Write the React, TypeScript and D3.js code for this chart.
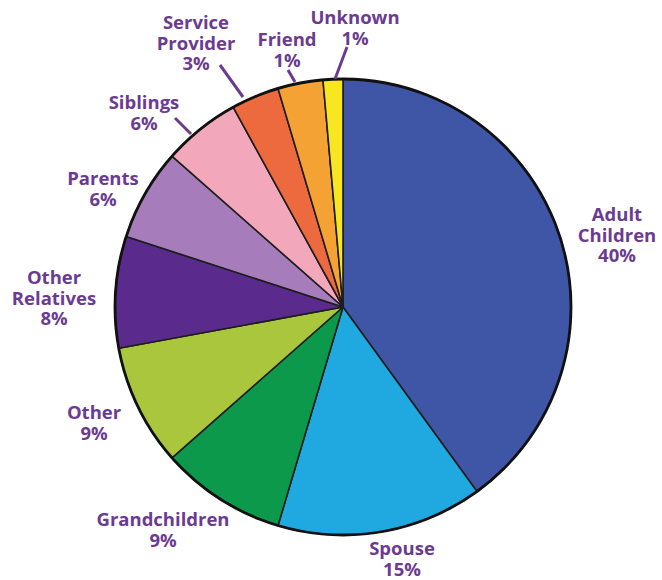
import React from "react";
import * as d3 from "d3";

const categories = [
  "Adult Children",
  "Spouse",
  "Grandchildren",
  "Other",
  "Other Relatives",
  "Parents",
  "Siblings",
  "Service Provider",
  "Friend",
  "Unknown",
];
// slice shares as drawn in the picture
const drawnShares = [40, 14.6, 8.9, 8.6, 7.9, 6.5, 5.5, 3.4, 3.2, 1.4];
// percentages as printed on the labels
const printedPercents = ["40%", "15%", "9%", "9%", "8%", "6%", "6%", "3%", "1%", "1%"];
const colors = [
  "#3f56a6",
  "#20a9e1",
  "#0d994b",
  "#a9c63d",
  "#5a2a8c",
  "#a67cbb",
  "#f2a8ba",
  "#ec6a3d",
  "#f5a234",
  "#f7e620",
];

// label layout: lines, center x, first baseline y
const labelLayout: { lines: string[]; x: number; y: number }[] = [
  { lines: ["Adult", "Children"], x: 617, y: 221 },
  { lines: ["Spouse"], x: 402, y: 555 },
  { lines: ["Grandchildren"], x: 163, y: 526 },
  { lines: ["Other"], x: 94, y: 419 },
  { lines: ["Other", "Relatives"], x: 54, y: 284 },
  { lines: ["Parents"], x: 103, y: 185 },
  { lines: ["Siblings"], x: 144, y: 109 },
  { lines: ["Service", "Provider"], x: 196, y: 29 },
  { lines: ["Friend"], x: 287, y: 46 },
  { lines: ["Unknown"], x: 355, y: 24 },
];
const leaders: [number, number, number, number][] = [
  [175, 118, 191, 134],
  [220, 65, 243, 97],
  [288, 70, 295, 82],
  [347, 47, 335, 79],
];

const W = 662;
const H = 580;
const cx = 343;
const cy = 307;
const R = 228;
const lineH = 20.5;
const textColor = "#6b3b91";

export default function App() {
  const pie = d3
    .pie<number>()
    .sort(null)
    .value((d) => d)
    .startAngle(0)
    .endAngle(2 * Math.PI);
  const arcs = pie(drawnShares);
  const arc = d3.arc<d3.PieArcDatum<number>>().innerRadius(0).outerRadius(R);

  return (
    <svg
      width={W}
      height={H}
      style={{ position: "absolute", left: 0, top: 0, background: "#fff" }}
    >
      <g transform={`translate(${cx},${cy})`}>
        {arcs.map((a, i) => (
          <path
            key={categories[i]}
            d={arc(a) || ""}
            fill={colors[i]}
            stroke="#1d1d1d"
            strokeWidth={1.6}
            strokeLinejoin="round"
          />
        ))}
        <circle r={R} fill="none" stroke="#111" strokeWidth={2.8} />
      </g>
      {leaders.map(([x1, y1, x2, y2], i) => (
        <line
          key={i}
          x1={x1}
          y1={y1}
          x2={x2}
          y2={y2}
          stroke={textColor}
          strokeWidth={3}
        />
      ))}
      {labelLayout.map((l, i) => (
        <text
          key={categories[i]}
          x={l.x}
          y={l.y}
          textAnchor="middle"
          fill={textColor}
          fontFamily="'Open Sans', 'Noto Sans', sans-serif"
          fontWeight={700}
          fontSize={18.5}
        >
          {[...l.lines, printedPercents[i]].map((t, j) => (
            <tspan key={j} x={l.x} dy={j === 0 ? 0 : lineH}>
              {t}
            </tspan>
          ))}
        </text>
      ))}
    </svg>
  );
}
